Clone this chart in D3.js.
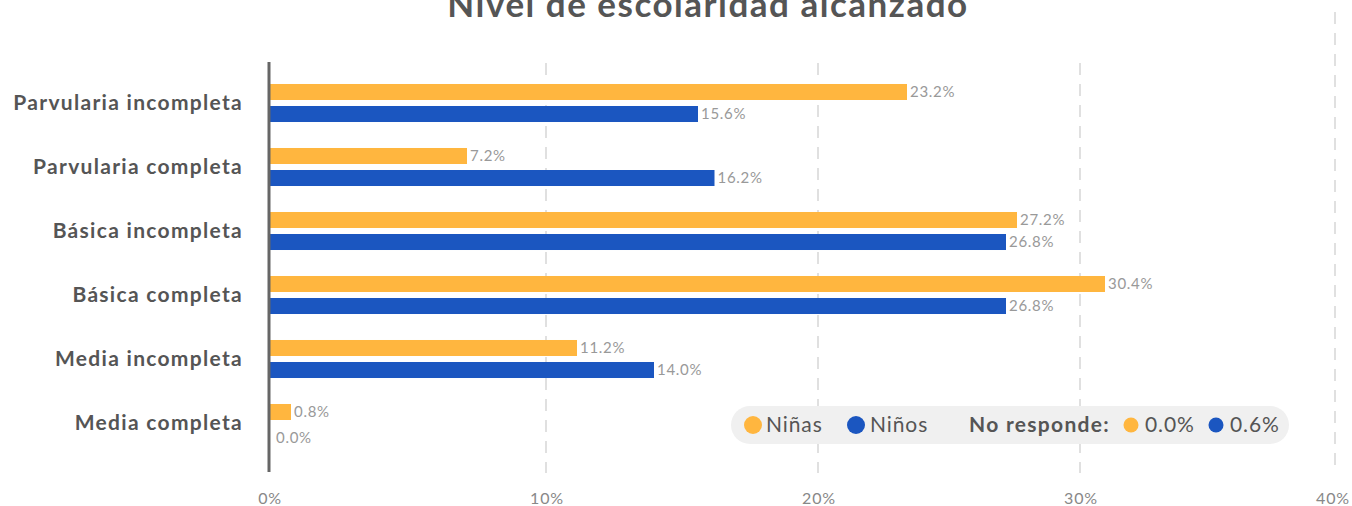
<!DOCTYPE html>
<html>
<head>
<meta charset="utf-8">
<script src="https://cdn.jsdelivr.net/npm/d3@7"></script>
<style>
  body { margin: 0; background: #fff; }
  svg { font-family: Lato, "Open Sans", sans-serif; display: block; }
</style>
</head>
<body>
<script>
const categories = ['Parvularia incompleta', 'Parvularia completa', 'Básica incompleta',
  'Básica completa', 'Media incompleta', 'Media completa'];
const series = ['Niñas', 'Niños'];
const ninas = [23.2, 7.2, 27.2, 30.4, 11.2, 0.8];
const ninos = [15.6, 16.2, 26.8, 26.8, 14.0, 0.0];
const noResponde = [0.0, 0.6];
const tickValues = [0, 10, 20, 30, 40];
const colors = ['#FFB63F', '#1B56C0'];

const width = 1352;
const height = 506;

const svg = d3.select(document.body)
  .append('svg')
  .attr('width', width)
  .attr('height', height);

// bars
const x = d3.scaleLinear().domain([0, 40]).range([269, 1369]);
// gridlines in the source sit a bit off the bar scale, so they get their own
const xGrid = d3.scaleLinear().domain(tickValues).range([269, 546, 818, 1080, 1335]);

const y = d3.scaleBand()
  .domain(categories)
  .range([71, 455])
  .paddingInner(0.406)
  .paddingOuter(0.203);

const ySub = d3.scaleBand()
  .domain(series)
  .range([0, y.bandwidth()])
  .paddingInner(0.2727);

const fmt = d => d.toFixed(1) + '%';

// title
svg.append('text')
  .attr('x', 708)
  .attr('y', 17)
  .attr('text-anchor', 'middle')
  .style('font-size', '35px')
  .style('letter-spacing', '1.5px')
  .style('font-weight', 'bold')
  .style('fill', '#555')
  .text('Nivel de escolaridad alcanzado');

// gridlines
svg.selectAll('line.grid')
  .data(tickValues.slice(1))
  .enter()
  .append('line')
  .attr('class', 'grid')
  .attr('x1', d => xGrid(d))
  .attr('x2', d => xGrid(d))
  .attr('y1', d => d === 40 ? 12 : 63)
  .attr('y2', 473)
  .style('stroke', '#e0e0e0')
  .style('stroke-width', 2)
  .style('stroke-dasharray', '12,9');

// tick labels
svg.selectAll('text.tick')
  .data(tickValues)
  .enter()
  .append('text')
  .attr('class', 'tick')
  .attr('x', d => xGrid(d) + (d === 40 ? -2 : 1))
  .attr('y', 504)
  .attr('text-anchor', 'middle')
  .style('font-size', '16px')
  .style('letter-spacing', '0.8px')
  .style('fill', '#888')
  .text(d => d + '%');

const rows = categories.map((c, i) => ({ cat: c, vals: [ninas[i], ninos[i]] }));

const groups = svg.selectAll('g.row')
  .data(rows)
  .enter()
  .append('g')
  .attr('class', 'row')
  .attr('transform', d => `translate(0,${y(d.cat)})`);

groups.selectAll('rect')
  .data(d => d.vals.map((v, j) => ({ s: series[j], v: v, j: j })))
  .enter()
  .append('rect')
  .attr('x', x(0))
  .attr('y', d => ySub(d.s))
  .attr('width', d => x(d.v) - x(0))
  .attr('height', ySub.bandwidth())
  .style('fill', d => colors[d.j]);

groups.selectAll('text.val')
  .data(d => d.vals.map((v, j) => ({ s: series[j], v: v, j: j })))
  .enter()
  .append('text')
  .attr('class', 'val')
  .attr('x', d => x(d.v) + (d.v === 0 ? 7 : 3))
  .attr('y', d => ySub(d.s) + ySub.bandwidth() / 2 + (d.v === 0 ? 4 : 0))
  .attr('dy', '0.35em')
  .style('font-size', '15px')
  .style('letter-spacing', '0.7px')
  .style('fill', '#999')
  .text(d => fmt(d.v));

// category labels
svg.selectAll('text.cat')
  .data(categories)
  .enter()
  .append('text')
  .attr('class', 'cat')
  .attr('x', 243)
  .attr('y', d => y(d) + y.bandwidth() / 2)
  .attr('dy', '0.35em')
  .attr('text-anchor', 'end')
  .style('font-size', '21px')
  .style('letter-spacing', '1.3px')
  .style('font-weight', 'bold')
  .style('fill', '#555')
  .text(d => d);

// y axis line
svg.append('line')
  .attr('x1', x(0))
  .attr('x2', x(0))
  .attr('y1', 62)
  .attr('y2', 472)
  .style('stroke', '#666')
  .style('stroke-width', 3);

// legend
const legend = svg.append('g').attr('transform', 'translate(731,406)');
legend.append('rect')
  .attr('width', 558)
  .attr('height', 38)
  .attr('rx', 19)
  .style('fill', '#f0f0f0');

const ly = 19;
const legendItems = [
  { type: 'dot', x: 22, r: 9, c: colors[0] },
  { type: 'text', x: 35, t: series[0] },
  { type: 'dot', x: 125, r: 9, c: colors[1] },
  { type: 'text', x: 139, t: series[1] },
  { type: 'text', x: 238, t: 'No responde:', bold: true },
  { type: 'dot', x: 400, r: 7.5, c: colors[0] },
  { type: 'text', x: 414, t: fmt(noResponde[0]) },
  { type: 'dot', x: 485, r: 7.5, c: colors[1] },
  { type: 'text', x: 499, t: fmt(noResponde[1]) }
];

legendItems.forEach(it => {
  if (it.type === 'dot') {
    legend.append('circle')
      .attr('cx', it.x)
      .attr('cy', ly)
      .attr('r', it.r)
      .style('fill', it.c);
  } else {
    legend.append('text')
      .attr('x', it.x)
      .attr('y', ly)
      .attr('dy', '0.35em')
      .style('font-size', '21px')
      .style('letter-spacing', it.bold ? '1.3px' : '0.9px')
      .style('font-weight', it.bold ? 'bold' : 'normal')
      .style('fill', '#555')
      .text(it.t);
  }
});
</script>
</body>
</html>
